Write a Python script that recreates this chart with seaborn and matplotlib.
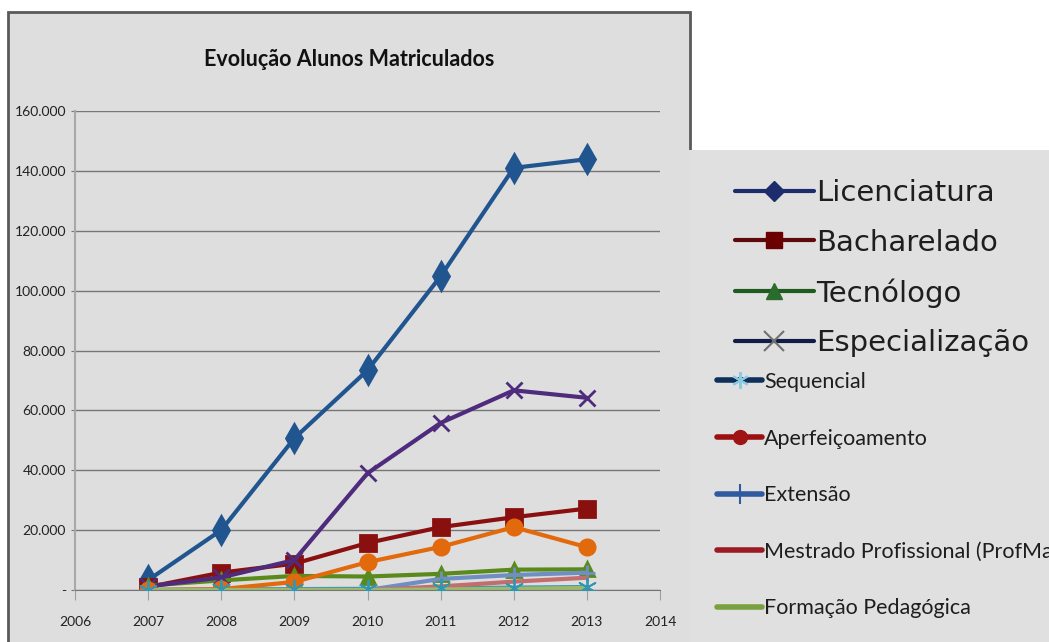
import matplotlib
matplotlib.use("Agg")
import numpy as np
import pandas as pd
import matplotlib.pyplot as plt
import seaborn as sns
from matplotlib.lines import Line2D
from matplotlib.patches import Rectangle

years = [2007, 2008, 2009, 2010, 2011, 2012, 2013]
licenciatura = [3300, 20000, 50700, 73400, 104800, 141000, 143900]
bacharelado = [1000, 5800, 8800, 15700, 21000, 24300, 27200]
tecnologo = [1500, 3200, 4700, 4500, 5400, 6800, 6900]
especializacao = [1200, 4200, 10000, 39000, 55800, 66700, 64200]
sequencial = [0, 200, 300, 400, 600, 800, 1000]
aperfeicoamento = [0, 300, 2700, 9300, 14400, 21000, 14300]
extensao = [0, 0, 0, 0, 3700, 5000, 5800]
mestrado = [0, 0, 0, 0, 1200, 2800, 4100]
formacao = [0, 0, 0, 0, 200, 400, 700]

series_names = ["Licenciatura", "Bacharelado", "Tecnólogo", "Especialização", "Sequencial",
                "Aperfeiçoamento", "Extensão", "Mestrado Profissional (ProfMat)", "Formação Pedagógica"]
series_values = [licenciatura, bacharelado, tecnologo, especializacao, sequencial,
                 aperfeicoamento, extensao, mestrado, formacao]

xticks = [2006, 2007, 2008, 2009, 2010, 2011, 2012, 2013, 2014]
yticks = [0, 20000, 40000, 60000, 80000, 100000, 120000, 140000, 160000]
ytick_labels = ["-", "20.000", "40.000", "60.000", "80.000", "100.000", "120.000", "140.000", "160.000"]

# line colour, marker, marker size for the plotted series
plot_style = {
    "Licenciatura": ("#21558f", "d", 14),
    "Bacharelado": ("#8a0f0f", "s", 11),
    "Tecnólogo": ("#5b8a1c", "^", 10),
    "Especialização": ("#4e2b7c", "x", 12),
    "Sequencial": ("#3a9bb3", None, 0),
    "Aperfeiçoamento": ("#e2690c", "o", 11),
    "Extensão": ("#6f8fc4", "+", 12),
    "Mestrado Profissional (ProfMat)": ("#c26d6e", None, 0),
    "Formação Pedagógica": ("#9cb86c", None, 0),
}

df = pd.DataFrame({"ano": years})
for name, vals in zip(series_names, series_values):
    df[name] = vals
long = df.melt(id_vars="ano", var_name="curso", value_name="alunos")

sns.set_style("white")
narrow = ["Lato", "DejaVu Sans"]
plt.rcParams["font.family"] = narrow

bg = "#dedede"
fig = plt.figure(figsize=(10.49, 6.42), dpi=100)
fig.patch.set_facecolor("white")

# chart frame
fig.patches.append(Rectangle((8 / 1049, -0.02), 682 / 1049, 1.0 - 12 / 642 + 0.02,
                             transform=fig.transFigure, facecolor=bg, edgecolor="#5a5a5a",
                             linewidth=2, zorder=0))
# legend panel
fig.patches.append(Rectangle((689 / 1049, 0), 360 / 1049, 1 - 150 / 642,
                             transform=fig.transFigure, facecolor="#e0e0e0", edgecolor="none",
                             zorder=1))

ax = fig.add_axes([75 / 1049, 52 / 642, 585 / 1049, 479 / 642])
ax.set_facecolor("none")
ax.set_zorder(3)

for name in series_names:
    color, marker, ms = plot_style[name]
    sub = long[long["curso"] == name]
    kw = dict(marker=marker, markersize=ms, markeredgecolor=color, markerfacecolor=color,
              markeredgewidth=2) if marker else {}
    sns.lineplot(data=sub, x="ano", y="alunos", ax=ax, color=color, linewidth=3,
                 legend=False, **kw)

# asterisks of Sequencial sit on top of the low lines
seq = long[long["curso"] == "Sequencial"]
sns.scatterplot(data=seq, x="ano", y="alunos", ax=ax, marker=(6, 2, 0), s=170,
                color="#2f97b2", linewidth=1.3, legend=False, zorder=5)

ax.set_xlim(2006, 2014)
ax.set_ylim(0, 160000)
ax.set_xticks(xticks)
ax.set_xticklabels([str(x) for x in xticks], fontsize=10, color="#222222")
ax.set_yticks(yticks)
ax.set_yticklabels(ytick_labels, fontsize=10, color="#222222")
ax.yaxis.grid(True, color="#767676", linewidth=1)
ax.set_axisbelow(True)
ax.set_xlabel("")
ax.set_ylabel("")
for s in ["top", "right"]:
    ax.spines[s].set_visible(False)
ax.spines["left"].set_color("#a8a8a8")
ax.spines["left"].set_linewidth(1.5)
ax.spines["bottom"].set_color("#767676")
ax.tick_params(axis="x", length=7, color="#a0a0a0", pad=12, bottom=True)
ax.tick_params(axis="y", length=3, color="#767676", pad=3.5, left=True)

fig.text(349 / 1049, 1 - 60 / 642, "Evolução Alunos Matriculados", ha="center", va="center",
         fontsize=15.5, fontweight="bold", color="#111111", zorder=4)

big = [
    Line2D([], [], color="#1c2c6c", lw=3, marker="D", ms=10, mfc="#1c2c6c", mec="#1c2c6c"),
    Line2D([], [], color="#5c0a0a", lw=3, marker="s", ms=12, mfc="#6a0000", mec="#6a0000"),
    Line2D([], [], color="#1f5a1f", lw=3, marker="^", ms=11, mfc="#2b6b2b", mec="#2b6b2b"),
    Line2D([], [], color="#111c48", lw=3, marker="x", ms=14, mec="#707070", mew=1.5),
]
small = [
    Line2D([], [], color="#10305c", lw=4, marker=(6, 2, 0), ms=12, mec="#8ccae0", mew=1.5),
    Line2D([], [], color="#9b1010", lw=4, marker="o", ms=10, mfc="#a01414", mec="#a01414"),
    Line2D([], [], color="#2f5aa0", lw=4, marker="|", ms=14, mec="#2f5aa0", mew=1.5),
    Line2D([], [], color="#9b1b25", lw=4),
    Line2D([], [], color="#7aa040", lw=4),
]
leg1 = fig.legend(handles=big, labels=series_names[:4], loc="upper left",
                  bbox_to_anchor=(735 / 1049, 1 - 179 / 642), frameon=False, borderpad=0,
                  borderaxespad=0, handlelength=2.7, handletextpad=0.08, labelspacing=0.74,
                  prop={"family": "DejaVu Sans", "size": 21})
leg2 = fig.legend(handles=small, labels=series_names[4:], loc="upper left",
                  bbox_to_anchor=(717 / 1049, 1 - 372 / 642), frameon=False, borderpad=0,
                  borderaxespad=0, handlelength=2.1, handletextpad=0.08, labelspacing=1.7,
                  prop={"family": narrow, "size": 15.5})
for leg in (leg1, leg2):
    leg.set_zorder(5)
    for t in leg.get_texts():
        t.set_color("#1e1e1e")

fig.savefig("out.png", dpi=100)
